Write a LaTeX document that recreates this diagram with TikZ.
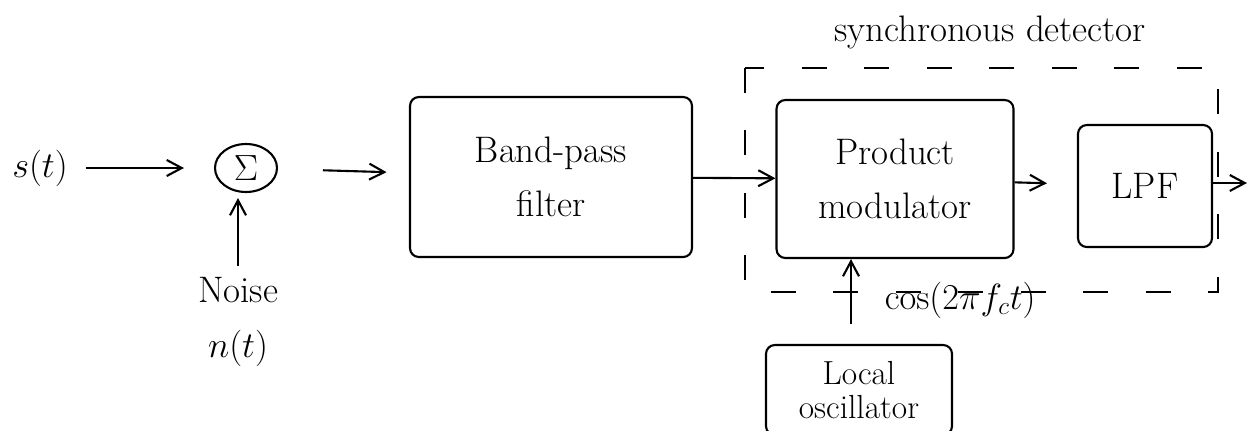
\documentclass[tikz,border=0pt]{standalone}
\usetikzlibrary{arrows.meta,shapes.geometric}

\tikzset{
  hand/.style={font=\fontsize{21}{31}\selectfont},
  blk/.style={draw,hand,align=center,rounded corners=5pt,line width=1.2pt},
  sdbox/.style={line width=1.2pt,dash pattern=on 0.5cm off 0.75cm},
}

\begin{document}
\begin{tikzpicture}[x=0.02cm,y=-0.02cm,line width=1.2pt,>={Straight Barb[length=3mm,width=3.2mm]}]
  \useasboundingbox (0,0) rectangle (1247,430);
  % entrada y sumador
  \node[hand] (s) at (40,168) {$s(t)$};
  \node[draw,ellipse,hand,minimum width=1.24cm,minimum height=0.96cm,inner sep=0pt] (sum) at (246,168) {$\Sigma$};
  \node[hand,align=center] (noise) at (238,322) {Noise\\$n(t)$};
  % bloques
  \node[blk,minimum width=5.64cm,minimum height=3.2cm] (bpf) at (551,177) {Band-pass\\filter};
  \node[blk,minimum width=4.74cm,minimum height=3.16cm] (pm) at (895,179) {Product\\modulator};
  \node[blk,minimum width=2.68cm,minimum height=2.44cm] (lpf) at (1145,186) {LPF};
  \node[blk,font=\fontsize{19}{19}\selectfont,minimum width=3.72cm,minimum height=1.8cm] (lo) at (859,390) {Local\\oscillator};
  \coordinate (out) at (1247,183);
  % detector sincrono (recuadro a trazos)
  \draw[sdbox] (745,68) rectangle (1218,292);
  \node[hand] (sdlbl) at (990,32) {synchronous detector};
  % flechas
  \draw[->,shorten <=0.22cm,shorten >=0.6cm] (s) -- (sum);
  \draw[->,shorten <=0.1cm,shorten >=0.1cm] (noise.north) -- (noise.north |- sum.south);
  \draw[->,shorten <=0.9cm,shorten >=0.45cm] (sum) -- (bpf);
  \draw[->] (bpf) -- (pm);
  \draw[->,shorten >=0.6cm] (pm) -- (lpf);
  \draw[->] (lpf.east |- out) -- (out);
  \draw[->,shorten <=0.4cm] ([xshift=-0.16cm]lo.north) -- ([xshift=-0.16cm]lo.north |- pm.south);
  \node[hand,anchor=west] (cos) at (878,300) {$\cos(2\pi f_c t)$};
\end{tikzpicture}
\end{document}
